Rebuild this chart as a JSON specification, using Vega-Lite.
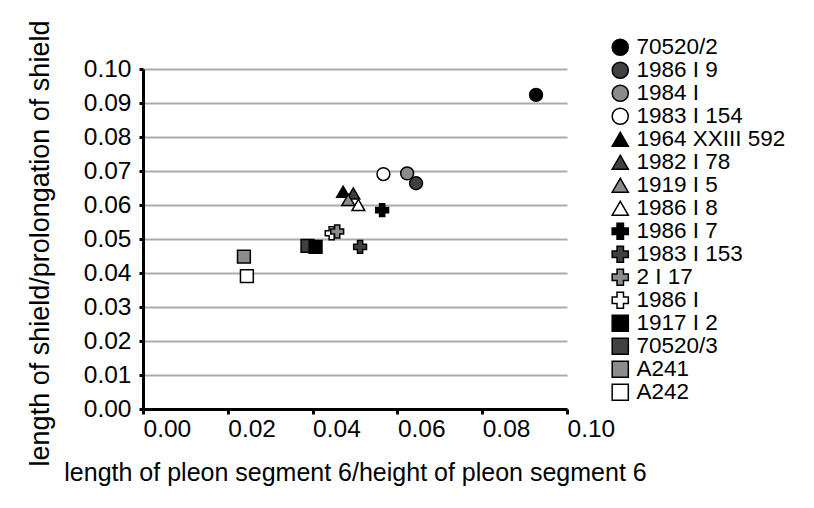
{
  "$schema": "https://vega.github.io/schema/vega-lite/v6.json",
  "width": 424,
  "height": 340,
  "autosize": {"type": "none"},
  "padding": {"left": 143, "top": 69, "right": 247, "bottom": 99},
  "background": "white",
  "config": {"font": "Liberation Sans", "view": {"stroke": null}},
  "data": {
    "values": [
      {"name": "70520/2", "x": 0.0927, "y": 0.0924},
      {"name": "1984 I", "x": 0.0623, "y": 0.0693},
      {"name": "1986 I 9", "x": 0.0644, "y": 0.0664},
      {"name": "1983 I 154", "x": 0.0567, "y": 0.0691},
      {"name": "1964 XXIII 592", "x": 0.0472, "y": 0.0639},
      {"name": "1982 I 78", "x": 0.0496, "y": 0.0634},
      {"name": "1919 I 5", "x": 0.0484, "y": 0.0615},
      {"name": "1986 I 8", "x": 0.0508, "y": 0.0600},
      {"name": "1986 I 7", "x": 0.0564, "y": 0.0585},
      {"name": "1983 I 153", "x": 0.0512, "y": 0.0477},
      {"name": "1986 I", "x": 0.0445, "y": 0.0517},
      {"name": "2 I 17", "x": 0.0458, "y": 0.0522},
      {"name": "70520/3", "x": 0.0388, "y": 0.0480},
      {"name": "1917 I 2", "x": 0.0407, "y": 0.0477},
      {"name": "A241", "x": 0.0238, "y": 0.0448},
      {"name": "A242", "x": 0.0245, "y": 0.0391}
    ]
  },
  "mark": {"type": "point", "filled": true, "stroke": "black", "strokeWidth": 1.5, "size": 165, "opacity": 1},
  "encoding": {
    "x": {
      "field": "x", "type": "quantitative",
      "scale": {"domain": [0, 0.1], "nice": false, "zero": true},
      "axis": {
        "title": "length of pleon segment 6/height of pleon segment 6",
        "values": [0, 0.02, 0.04, 0.06, 0.08, 0.1],
        "format": ".2f", "grid": false,
        "domainColor": "black", "domainWidth": 3,
        "tickColor": "black", "tickWidth": 3, "tickSize": 5,
        "labelAlign": "left", "labelFontSize": 24.5, "labelColor": "black", "labelPadding": 3,
        "labelFlush": false, "labelOverlap": false,
        "titleFontSize": 25, "titleFontWeight": "normal", "titleColor": "black",
        "titleX": 212, "titleY": 71, "titleBaseline": "alphabetic", "titleAlign": "center"
      }
    },
    "y": {
      "field": "y", "type": "quantitative",
      "scale": {"domain": [0, 0.1], "nice": false, "zero": true},
      "axis": {
        "title": "length of shield/prolongation of shield",
        "values": [0, 0.01, 0.02, 0.03, 0.04, 0.05, 0.06, 0.07, 0.08, 0.09, 0.1],
        "format": ".2f", "grid": true, "gridColor": "#ababab", "gridWidth": 2,
        "domainColor": "black", "domainWidth": 3,
        "tickColor": "black", "tickWidth": 3, "tickSize": 4,
        "labelFontSize": 24.5, "labelColor": "black", "labelPadding": 8,
        "labelFlush": false, "labelOverlap": false,
        "titleFontSize": 27, "titleFontWeight": "normal", "titleColor": "black",
        "titleX": -95, "titleY": 174, "titleAngle": -90, "titleBaseline": "alphabetic", "titleAlign": "center"
      }
    },
    "fill": {
      "field": "name", "type": "nominal",
      "scale": {
        "domain": ["70520/2", "1986 I 9", "1984 I", "1983 I 154", "1964 XXIII 592", "1982 I 78", "1919 I 5", "1986 I 8", "1986 I 7", "1983 I 153", "2 I 17", "1986 I", "1917 I 2", "70520/3", "A241", "A242"],
        "range": ["#000000", "#404040", "#8c8c8c", "#ffffff", "#000000", "#404040", "#8c8c8c", "#ffffff", "#000000", "#404040", "#8c8c8c", "#ffffff", "#000000", "#404040", "#8c8c8c", "#ffffff"]
      },
      "legend": {
        "title": null, "orient": "none", "legendX": 466, "legendY": -33,
        "labelFontSize": 22.5, "labelColor": "black", "labelLimit": 300, "labelOffset": 5,
        "symbolSize": 260, "symbolStrokeColor": "black", "symbolStrokeWidth": 1.5,
        "rowPadding": 0, "padding": 0
      }
    },
    "shape": {
      "field": "name", "type": "nominal",
      "scale": {
        "domain": ["70520/2", "1986 I 9", "1984 I", "1983 I 154", "1964 XXIII 592", "1982 I 78", "1919 I 5", "1986 I 8", "1986 I 7", "1983 I 153", "2 I 17", "1986 I", "1917 I 2", "70520/3", "A241", "A242"],
        "range": ["circle", "circle", "circle", "circle", "triangle-up", "triangle-up", "triangle-up", "triangle-up", "cross", "cross", "cross", "cross", "square", "square", "square", "square"]
      }
    }
  }
}
